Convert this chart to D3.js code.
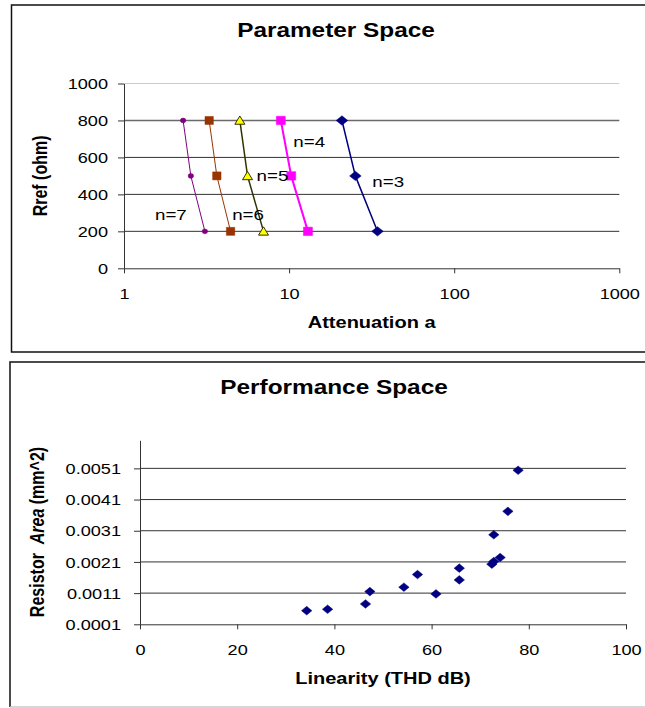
<!DOCTYPE html>
<html>
<head>
<meta charset="utf-8">
<script src="https://cdn.jsdelivr.net/npm/d3@7"></script>
<style>
  html, body { margin: 0; padding: 0; background: #fff; }
  svg { display: block; font-family: "Liberation Sans", Arial, sans-serif; }
</style>
</head>
<body>
<svg id="chart" width="645" height="708"></svg>
<script>
// ---- Parameter space: attenuation per filter order at three Rref levels ----
const rrefLevels = [800, 500, 200];
const seriesOrders = ["n=3", "n=4", "n=5", "n=6", "n=7"];
const attenuationN3 = [20.9, 25.2, 34.3];
const attenuationN4 = [8.91, 10.3, 13.0];
const attenuationN5 = [5.03, 5.60, 7.00];
const attenuationN6 = [3.28, 3.65, 4.42];
const attenuationN7 = [2.28, 2.54, 3.09];
// where each order's label sits (attenuation, Rref)
const orderLabelX = [31.9, 10.6, 6.35, 4.52, 1.54];
const orderLabelY = [469, 685, 501, 288, 288];
const rrefTicks = [0, 200, 400, 600, 800, 1000];
const attenuationTicks = [1, 10, 100, 1000];

// ---- Performance space: linearity vs resistor area ----
const linearityDb = [34.3, 38.6, 46.4, 47.3, 54.3, 57.1, 60.9, 65.7, 65.7, 72.4, 72.8, 74.1, 72.8, 75.7, 77.8];
const resistorArea = [0.000537, 0.000582, 0.000753, 0.001148, 0.00129, 0.001695, 0.001074, 0.0019,
                      0.001524, 0.002029, 0.002113, 0.002241, 0.002971, 0.003721, 0.005039];
const linearityTicks = [0, 20, 40, 60, 80, 100];
const areaTicks = [0.0001, 0.0011, 0.0021, 0.0031, 0.0041, 0.0051];

const SX = 1.25;           // horizontal glyph stretch of the sheet
const svg = d3.select("#chart");
svg.append("rect").attr("width", 645).attr("height", 708).attr("fill", "#fff");

function stretchedText(g, x, y, str, size, opts = {}) {
  return g.append("text")
    .attr("transform", `translate(${x},${y}) scale(${SX},1)` + (opts.rotate ? " rotate(-90)" : ""))
    .attr("text-anchor", opts.anchor || "middle")
    .attr("font-size", size)
    .attr("font-weight", opts.bold ? "bold" : null)
    .attr("fill", "#000")
    .text(str);
}

function styleAxis(g, side, offset) {
  g.select(".domain").attr("stroke", "#333").attr("stroke-width", 1);
  g.selectAll(".tick line").attr("stroke", "#333");
  g.selectAll(".tick text")
    .attr("fill", "#000").attr("font-size", 14.5)
    .attr("font-family", "Liberation Sans, Arial, sans-serif")
    .each(function () {
      const t = d3.select(this);
      if (side === "left") {
        t.attr("x", 0).attr("dy", "0.36em").attr("text-anchor", "end")
         .attr("transform", `translate(${-offset},0) scale(${SX},1)`);
      } else {
        t.attr("y", 0).attr("dy", null).attr("text-anchor", "middle")
         .attr("transform", `translate(0,${offset}) scale(${SX},1)`);
      }
    });
}

// ================= Chart 1: Parameter Space =================
const paramG = svg.append("g");
paramG.append("rect").attr("x", 11.5).attr("y", 5).attr("width", 640).attr("height", 347)
  .attr("fill", "none").attr("stroke", "#111").attr("stroke-width", 1.5);

const x1 = d3.scaleLog().domain([1, 1000]).range([124, 619.3]);
const y1 = d3.scaleLinear().domain([0, 1000]).range([268.3, 83.5]);

// horizontal gridlines
paramG.append("g").selectAll("line").data(rrefTicks.filter(d => d > 0)).join("line")
  .attr("x1", x1(1)).attr("x2", x1(1000))
  .attr("y1", d => y1(d)).attr("y2", d => y1(d))
  .attr("stroke", d => d === 1000 ? "#ccc" : (d === 800 ? "#6a6a6a" : "#333"))
  .attr("stroke-width", d => d === 800 ? 1.6 : 1);

const y1Axis = paramG.append("g").attr("transform", `translate(${x1(1)},0)`)
  .call(d3.axisLeft(y1).tickValues(rrefTicks).tickSize(6).tickSizeOuter(0).tickFormat(d3.format("d")));
styleAxis(y1Axis, "left", 16);
const x1Axis = paramG.append("g").attr("transform", `translate(0,${y1(0)})`)
  .call(d3.axisBottom(x1).tickValues(attenuationTicks).tickSize(5).tickSizeOuter(0).tickFormat(d3.format("d")));
styleAxis(x1Axis, "bottom", 31);

const orderSeries = [
  { name: seriesOrders[0], xs: attenuationN3, line: "#000080", lw: 1.5, fill: "#000080", stroke: "#000080", shape: "diamond" },
  { name: seriesOrders[1], xs: attenuationN4, line: "#ff00ff", lw: 2,   fill: "#ff00ff", stroke: "#ff00ff", shape: "square" },
  { name: seriesOrders[2], xs: attenuationN5, line: "#333300", lw: 1.5, fill: "#ffff00", stroke: "#333300", shape: "triangle" },
  { name: seriesOrders[3], xs: attenuationN6, line: "#993300", lw: 1,   fill: "#993300", stroke: "#993300", shape: "squareSmall" },
  { name: seriesOrders[4], xs: attenuationN7, line: "#800080", lw: 1,   fill: "#800080", stroke: "#800080", shape: "dot" }
];
const markerPaths = {
  diamond: "M0,-4.7L5.8,0L0,4.7L-5.8,0Z",
  square: "M-4.5,-4.2H4.5V4.2H-4.5Z",
  squareSmall: "M-4.2,-4H4.2V4H-4.2Z",
  triangle: "M0,-4.5L5,3.8L-5,3.8Z",
  dot: "M-2.7,0A2.7,2.4 0 1,0 2.7,0A2.7,2.4 0 1,0 -2.7,0Z"
};
const lineGen = d3.line().x(d => x1(d[0])).y(d => y1(d[1]));

orderSeries.forEach((s, i) => {
  const pts = s.xs.map((v, k) => [v, rrefLevels[k]]);
  paramG.append("path").attr("d", lineGen(pts)).attr("fill", "none")
    .attr("stroke", s.line).attr("stroke-width", s.lw);
  paramG.append("g").selectAll("path").data(pts).join("path")
    .attr("d", markerPaths[s.shape])
    .attr("transform", d => `translate(${x1(d[0])},${y1(d[1])})`)
    .attr("fill", s.fill).attr("stroke", s.stroke).attr("stroke-width", s.shape === "triangle" ? 1 : 0.5);
  stretchedText(paramG, x1(orderLabelX[i]), y1(orderLabelY[i]), s.name, 15, { anchor: "start" })
    .attr("dy", "0.36em");
});

stretchedText(paramG, 336, 37, "Parameter Space", 19.5, { bold: true });
stretchedText(paramG, (x1(1) + x1(1000)) / 2, 328, "Attenuation a", 16, { bold: true });
stretchedText(paramG, 47, (y1(0) + y1(1000)) / 2, "Rref (ohm)", 16, { bold: true, rotate: true });

// ================= Chart 2: Performance Space =================
const perfG = svg.append("g");
// frame: dark top and left edges, faint bottom edge
perfG.append("path").attr("d", "M10,707V362H652")
  .attr("fill", "none").attr("stroke", "#111").attr("stroke-width", 1.5);
perfG.append("line").attr("x1", 10).attr("x2", 645).attr("y1", 707).attr("y2", 707)
  .attr("stroke", "#c8c8c8").attr("stroke-width", 1.5);

const x2 = d3.scaleLinear().domain([0, 100]).range([140, 626]);
const y2 = d3.scaleLinear().domain([0.0001, 0.006]).range([624.3, 440.3]);

perfG.append("g").selectAll("line").data(areaTicks.slice(1)).join("line")
  .attr("x1", x2(0)).attr("x2", x2(100))
  .attr("y1", d => y2(d)).attr("y2", d => y2(d))
  .attr("stroke", "#333").attr("stroke-width", 1);

const y2Axis = perfG.append("g").attr("transform", `translate(${x2(0)},0)`)
  .call(d3.axisLeft(y2).tickValues(areaTicks).tickSize(6).tickSizeOuter(0).tickFormat(d3.format(".4f")));
styleAxis(y2Axis, "left", 19);
const x2Axis = perfG.append("g").attr("transform", `translate(0,${y2(0.0001)})`)
  .call(d3.axisBottom(x2).tickValues(linearityTicks).tickSize(5).tickSizeOuter(0).tickFormat(d3.format("d")));
styleAxis(x2Axis, "bottom", 31);

perfG.append("g").selectAll("path").data(linearityDb.map((v, i) => [v, resistorArea[i]])).join("path")
  .attr("d", "M0,-4.3L5.2,0L0,4.3L-5.2,0Z")
  .attr("transform", d => `translate(${x2(d[0])},${y2(d[1])})`)
  .attr("fill", "#000080").attr("stroke", "#000080").attr("stroke-width", 0.5);

stretchedText(perfG, 334, 394, "Performance Space", 19.5, { bold: true });
stretchedText(perfG, (x2(0) + x2(100)) / 2, 684, "Linearity (THD dB)", 16, { bold: true });
const yl = stretchedText(perfG, 44, 532, "", 16, { bold: true, rotate: true });
yl.append("tspan").text("Resistor\u00a0 ");
yl.append("tspan").attr("font-style", "italic").text("Area");
yl.append("tspan").text(" (mm^2)");
</script>
</body>
</html>
